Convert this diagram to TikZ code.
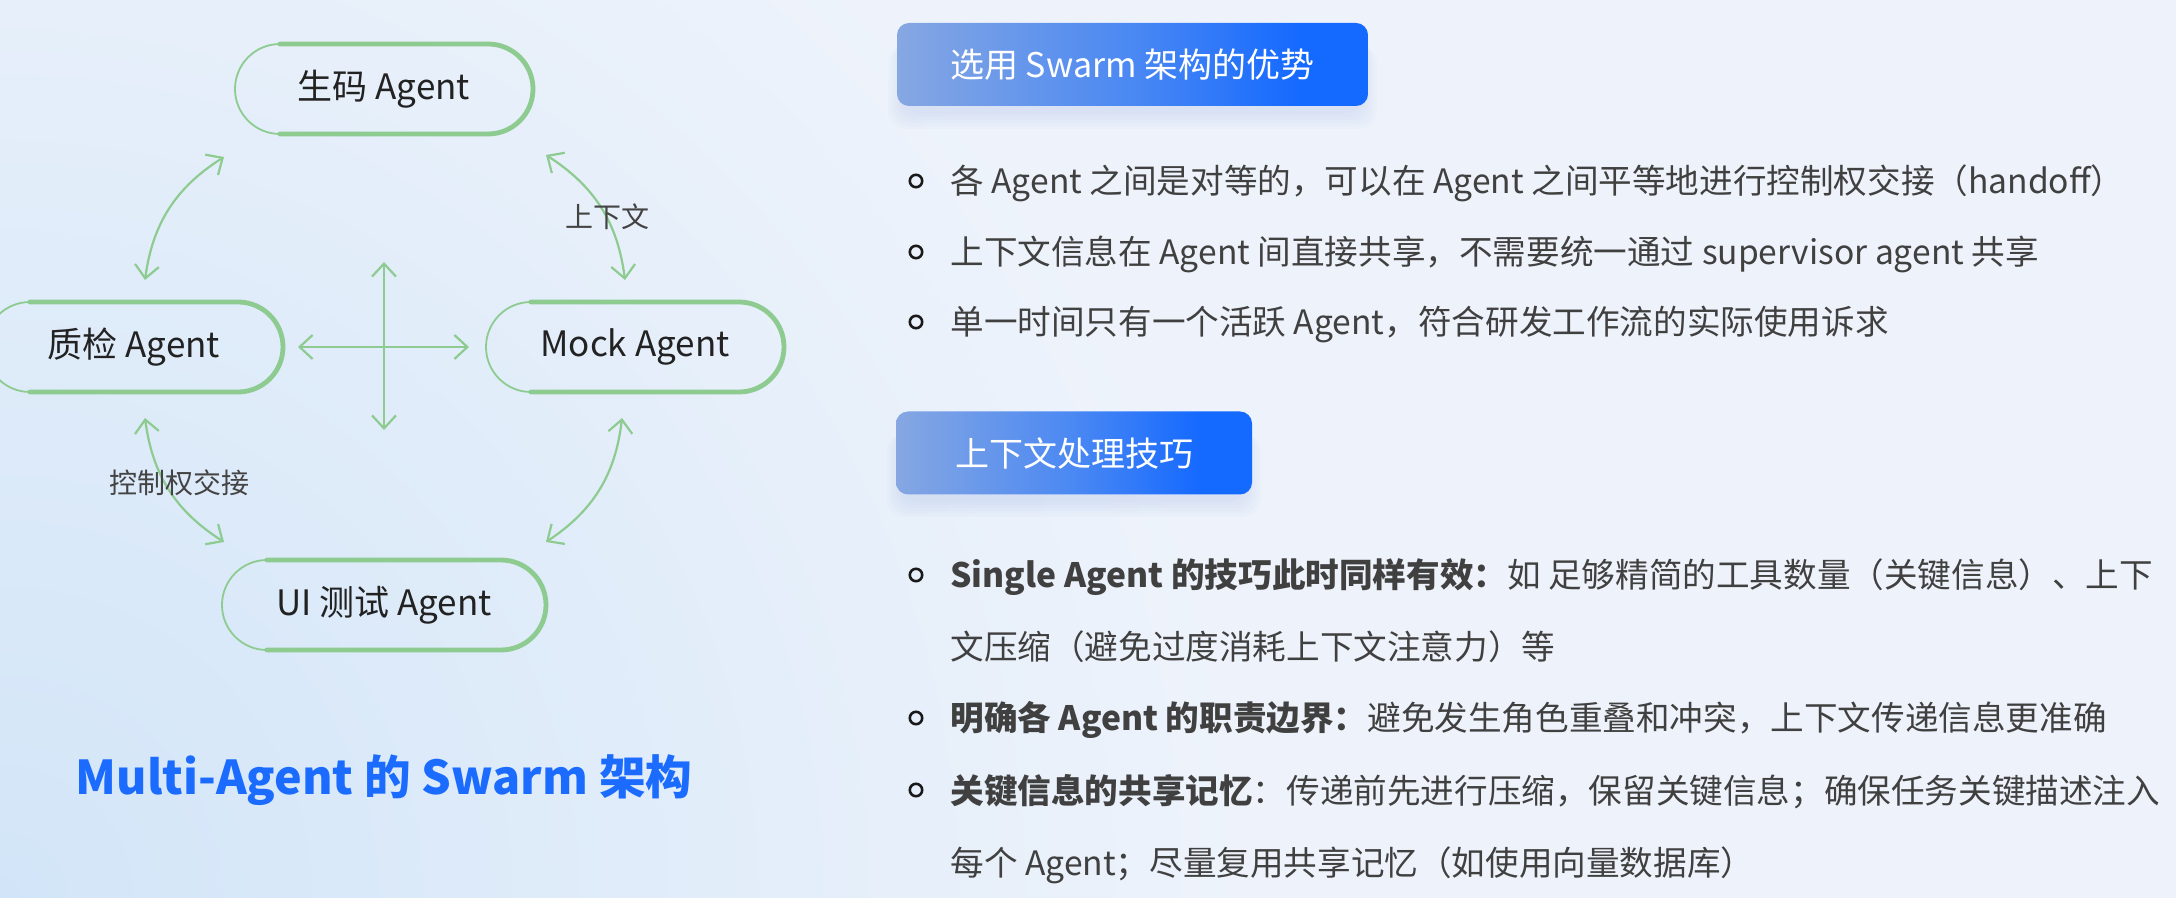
\documentclass[tikz,border=0pt]{standalone}
\usepackage{fontspec}
\setmainfont{Noto Sans CJK SC}
\usetikzlibrary{arrows.meta,calc}
\definecolor{bgc}{HTML}{EEF3FB}
\definecolor{bgblue}{HTML}{D2E5F8}
\definecolor{bgright}{HTML}{E4EDF9}
\definecolor{sketchgreen}{HTML}{8DCB90}
\definecolor{inkc}{HTML}{222222}
\definecolor{bodyc}{HTML}{404040}
\definecolor{titleblue}{HTML}{1B6CFE}
\definecolor{hdrL}{HTML}{86A7E2}
\definecolor{hdrM}{HTML}{4A88F3}
\definecolor{hdrR}{HTML}{1469FF}
\definecolor{shadowc}{HTML}{AFC2E8}
\pgfdeclarehorizontalshading{hdrshade}{100bp}{color(0bp)=(hdrL); color(25bp)=(hdrL); color(50bp)=(hdrM); color(68bp)=(hdrR); color(100bp)=(hdrR)}
\pgfdeclareradialshading{blobL}{\pgfpoint{0bp}{0bp}}{color(0bp)=(bgblue); color(6.5bp)=(bgc); color(50bp)=(bgc)}
\pgfdeclareradialshading{blobR}{\pgfpoint{0bp}{0bp}}{color(0bp)=(bgright); color(4.5bp)=(bgc); color(50bp)=(bgc)}
\tikzset{
  agent/.style={rectangle, inner sep=0pt, outer sep=0pt, minimum height=45pt, text=inkc, font=\fontsize{17.5}{20}\selectfont},
  pillthin/.style={draw=sketchgreen, line width=0.9pt},
  pillthick/.style={draw=sketchgreen, line width=2.4pt, line join=round, line cap=round},
  link/.style={draw=sketchgreen, line width=1.1pt, line cap=round, >={Straight Barb[length=6.5pt,width=12pt]}, <->},
  tag/.style={text=inkc!85, font=\fontsize{14}{16}\selectfont, inner sep=0pt},
  hdrbox/.style={rectangle, rounded corners=6pt, shade, shading=hdrshade, text=white, inner sep=0pt, minimum height=41.5pt, font=\fontsize{17}{20}\selectfont},
  bulletdot/.style={circle, draw=black!90, line width=1.3pt, minimum size=6.2pt, inner sep=0pt},
  body/.style={anchor=base west, text=bodyc, inner sep=0pt, font=\fontsize{16.8}{20}\selectfont},
  hdrshadow/.style={fill=shadowc, opacity=0.06, rounded corners=9pt}
}
\newcommand\sketchpill[1]{%
  \draw[pillthin] ($(#1.north west)+(22.5pt,0pt)$) arc[start angle=90,end angle=270,radius=22.5pt];
  \draw[pillthick] ($(#1.south west)+(22.5pt,0pt)$) -- ($(#1.south east)+(-22.5pt,0pt)$) arc[start angle=-90,end angle=90,radius=22.5pt] -- ($(#1.north west)+(22.5pt,0pt)$);
}
\begin{document}
\begin{tikzpicture}[x=0.5pt,y=-0.5pt]
\useasboundingbox (0,0) rectangle (2176,898);
\clip (0,0) rectangle (2176,898);
% background
\fill[bgc] (0,0) rectangle (2176,898);
\shade[shading=blobR] (2176,250) circle[radius=2400pt];
\shade[shading=blobL] (0,898) circle[radius=2400pt];

% ---------- left diagram ----------
\node[agent, minimum width=149pt] (gen) at (384,89) {生码 Agent};
\node[agent, minimum width=149pt] (qc) at (134,347) {质检 Agent};
\node[agent, minimum width=149pt] (mock) at (635,347) {Mock Agent};
\node[agent, minimum width=162pt] (ui) at (384,605) {UI 测试 Agent};
\sketchpill{gen}
\sketchpill{qc}
\sketchpill{mock}
\sketchpill{ui}

\coordinate (tlA) at (224,157);
\coordinate (tlB) at (145,280);
\coordinate (trA) at (546,155);
\coordinate (trB) at (625,280);
\coordinate (blA) at (145,418);
\coordinate (blB) at (224,542);
\coordinate (brA) at (622,418);
\coordinate (brB) at (546,542);
\coordinate (hA) at (298,347);
\coordinate (hB) at (469,347);
\coordinate (vA) at (384,262);
\coordinate (vB) at (384,430);

\draw[link] (tlA) to[bend right=25] (tlB);
\draw[link] (trA) to[bend left=25] (trB);
\draw[link] (blA) to[bend right=25] (blB);
\draw[link] (brA) to[bend left=25] (brB);
\draw[link] (hA) -- (hB);
\draw[link] (vA) -- (vB);

\node[tag] (ctx) at (607,217) {上下文};
\node[tag] (hand) at (179,483) {控制权交接};

\node[text=titleblue, font=\fontsize{23.3}{28}\selectfont\bfseries] (title) at (384,780) {Multi-Agent 的 Swarm 架构};

% ---------- right: section 1 ----------
\foreach \i in {0,...,5} {
  \fill[hdrshadow] (903-\i*3,40+\i*1) rectangle (1362+\i*3,114+\i*3);
  \fill[hdrshadow] (902-\i*3,429+\i*1) rectangle (1246+\i*3,502+\i*3);
}
\node[hdrbox, minimum width=235.5pt] (h1) at (1132.5,64.5) {选用 Swarm 架构的优势};

\node[bulletdot] (d1) at (916,181) {};
\node[body] (t1) at (950,194) {各 Agent 之间是对等的，可以在 Agent 之间平等地进行控制权交接（handoff）};
\node[bulletdot] (d2) at (916,252) {};
\node[body] (t2) at (950,265) {上下文信息在 Agent 间直接共享，不需要统一通过 supervisor agent 共享};
\node[bulletdot] (d3) at (916,322) {};
\node[body] (t3) at (950,335) {单一时间只有一个活跃 Agent，符合研发工作流的实际使用诉求};

% ---------- right: section 2 ----------
\node[hdrbox, minimum width=178pt] (h2) at (1074,453) {上下文处理技巧};

\node[bulletdot] (e1) at (916,575) {};
\node[body] (u1) at (950,588) {\textbf{Single Agent 的技巧此时同样有效：}如 足够精简的工具数量（关键信息）、上下};
\node[body] (u1b) at (950,660) {文压缩（避免过度消耗上下文注意力）等};
\node[bulletdot] (e2) at (916,718) {};
\node[body] (u2) at (950,731) {\textbf{明确各 Agent 的职责边界：}避免发生角色重叠和冲突，上下文传递信息更准确};
\node[bulletdot] (e3) at (916,790) {};
\node[body] (u3) at (950,803) {\textbf{关键信息的共享记忆}：传递前先进行压缩，保留关键信息；确保任务关键描述注入};
\node[body] (u3b) at (950,875) {每个 Agent；尽量复用共享记忆（如使用向量数据库）};
\end{tikzpicture}
\end{document}
